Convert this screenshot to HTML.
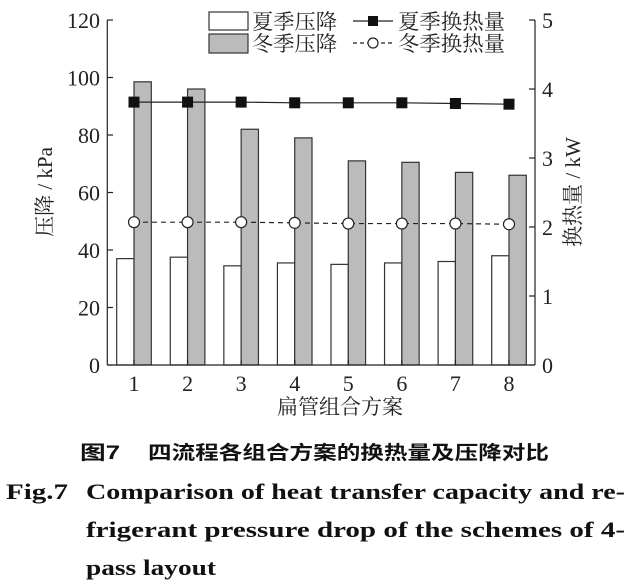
<!DOCTYPE html>
<html><head><meta charset="utf-8"><style>
body{margin:0;width:638px;height:587px;background:#fff;overflow:hidden;font-family:"Liberation Serif","Noto Serif CJK SC",serif}
</style></head><body>
<svg width="638" height="587" style="position:absolute;left:0;top:0" font-family="Liberation Serif, Noto Serif CJK SC, serif">
<g id="bars" stroke="#333" stroke-width="1.2"></g>
<g stroke="#222" stroke-width="1.2" fill="none">
<line x1="107.3" y1="20" x2="107.3" y2="365"/>
<line x1="535" y1="20" x2="535" y2="365"/>
<line x1="107.3" y1="365" x2="535" y2="365"/>
</g>
<g id="ticks" stroke="#222" stroke-width="1.2"></g>
<g id="lab" font-size="22" fill="#222"></g>
<g id="ser"></g>
<rect x="209" y="12" width="39" height="18" fill="#fff" stroke="#333" stroke-width="1.2"/>
<rect x="209" y="34" width="39" height="19" fill="#bbb" stroke="#333" stroke-width="1.2"/>
<text x="252" y="29" font-size="21" fill="#222" textLength="85" lengthAdjust="spacingAndGlyphs">夏季压降</text>
<text x="252" y="51" font-size="21" fill="#222" textLength="85" lengthAdjust="spacingAndGlyphs">冬季压降</text>
<line x1="353" y1="21" x2="393" y2="21" stroke="#222" stroke-width="1.2"/>
<rect x="368" y="16" width="10" height="10" fill="#111"/>
<line x1="353" y1="43" x2="393" y2="43" stroke="#222" stroke-width="1.2" stroke-dasharray="4,3"/>
<circle cx="373" cy="43" r="5" fill="#fff" stroke="#222" stroke-width="1.2"/>
<text x="398" y="29" font-size="21" fill="#222" textLength="107" lengthAdjust="spacingAndGlyphs">夏季换热量</text>
<text x="398" y="51" font-size="21" fill="#222" textLength="107" lengthAdjust="spacingAndGlyphs">冬季换热量</text>
<text x="277" y="414" font-size="21" fill="#222" textLength="126" lengthAdjust="spacingAndGlyphs">扁管组合方案</text>
<text transform="translate(52,192) rotate(-90)" text-anchor="middle" font-size="21" fill="#222">压降 / kPa</text>
<text transform="translate(580,192) rotate(-90)" text-anchor="middle" font-size="21" fill="#222">换热量 / kW</text>
<g font-size="19" font-weight="bold" fill="#111" font-family="Liberation Sans, Noto Sans CJK SC, sans-serif">
<text x="80" y="459" textLength="40" lengthAdjust="spacingAndGlyphs">图7</text>
<text x="148" y="459" textLength="401" lengthAdjust="spacingAndGlyphs">四流程各组合方案的换热量及压降对比</text>
</g>
<g font-size="22" font-weight="bold" fill="#111" font-family="Liberation Serif, serif">
<text x="6" y="499" textLength="62" lengthAdjust="spacingAndGlyphs">Fig.7</text>
<text x="86" y="499" textLength="539" lengthAdjust="spacingAndGlyphs">Comparison of heat transfer capacity and re-</text>
<text x="86" y="537" textLength="539" lengthAdjust="spacingAndGlyphs">frigerant pressure drop of the schemes of 4-</text>
<text x="86" y="575" textLength="130" lengthAdjust="spacingAndGlyphs">pass layout</text>
</g>
</svg>
<script>
const ns="http://www.w3.org/2000/svg";
function el(p,t,a,txt){const e=document.createElementNS(ns,t);for(const k in a)e.setAttribute(k,a[k]);if(txt!=null)e.textContent=txt;document.getElementById(p).appendChild(e);return e;}
const y0=365,L=v=>y0-v*2.875,R=v=>y0-v*69,cx=i=>134+i*53.57;
const s=[37,37.5,34.5,35.5,35,35.5,36,38],w=[98.5,96,82,79,71,70.5,67,66];
const hs=[3.81,3.81,3.81,3.80,3.80,3.80,3.79,3.78],hw=[2.07,2.07,2.07,2.06,2.05,2.05,2.05,2.04];
for(let i=0;i<8;i++){
 el("bars","rect",{x:cx(i)-17.3,y:L(s[i]),width:17.3,height:y0-L(s[i]),fill:"#fff"});
 el("bars","rect",{x:cx(i),y:L(w[i]),width:17.3,height:y0-L(w[i]),fill:"#bbb"});
 el("ticks","line",{x1:cx(i),y1:y0,x2:cx(i),y2:y0-5});
 el("lab","text",{x:cx(i),y:391,"text-anchor":"middle"},i+1);
}
for(let v=0;v<=120;v+=20){el("ticks","line",{x1:107.3,y1:L(v),x2:113,y2:L(v)});el("lab","text",{x:100,y:L(v)+8,"text-anchor":"end"},v);}
for(let v=0;v<=5;v++){el("ticks","line",{x1:535,y1:R(v),x2:529,y2:R(v)});el("lab","text",{x:542,y:R(v)+8},v);}
let p1="",p2="";for(let i=0;i<8;i++){p1+=(i?"L":"M")+cx(i)+","+R(hs[i]);p2+=(i?"L":"M")+cx(i)+","+R(hw[i]);}
el("ser","path",{d:p1,stroke:"#222","stroke-width":1.2,fill:"none"});
el("ser","path",{d:p2,stroke:"#222","stroke-width":1.2,fill:"none","stroke-dasharray":"5,4"});
for(let i=0;i<8;i++){el("ser","rect",{x:cx(i)-5.5,y:R(hs[i])-5.5,width:11,height:11,fill:"#111"});
el("ser","circle",{cx:cx(i),cy:R(hw[i]),r:5.5,fill:"#fff",stroke:"#222","stroke-width":1.2});}
</script>
</body></html>
